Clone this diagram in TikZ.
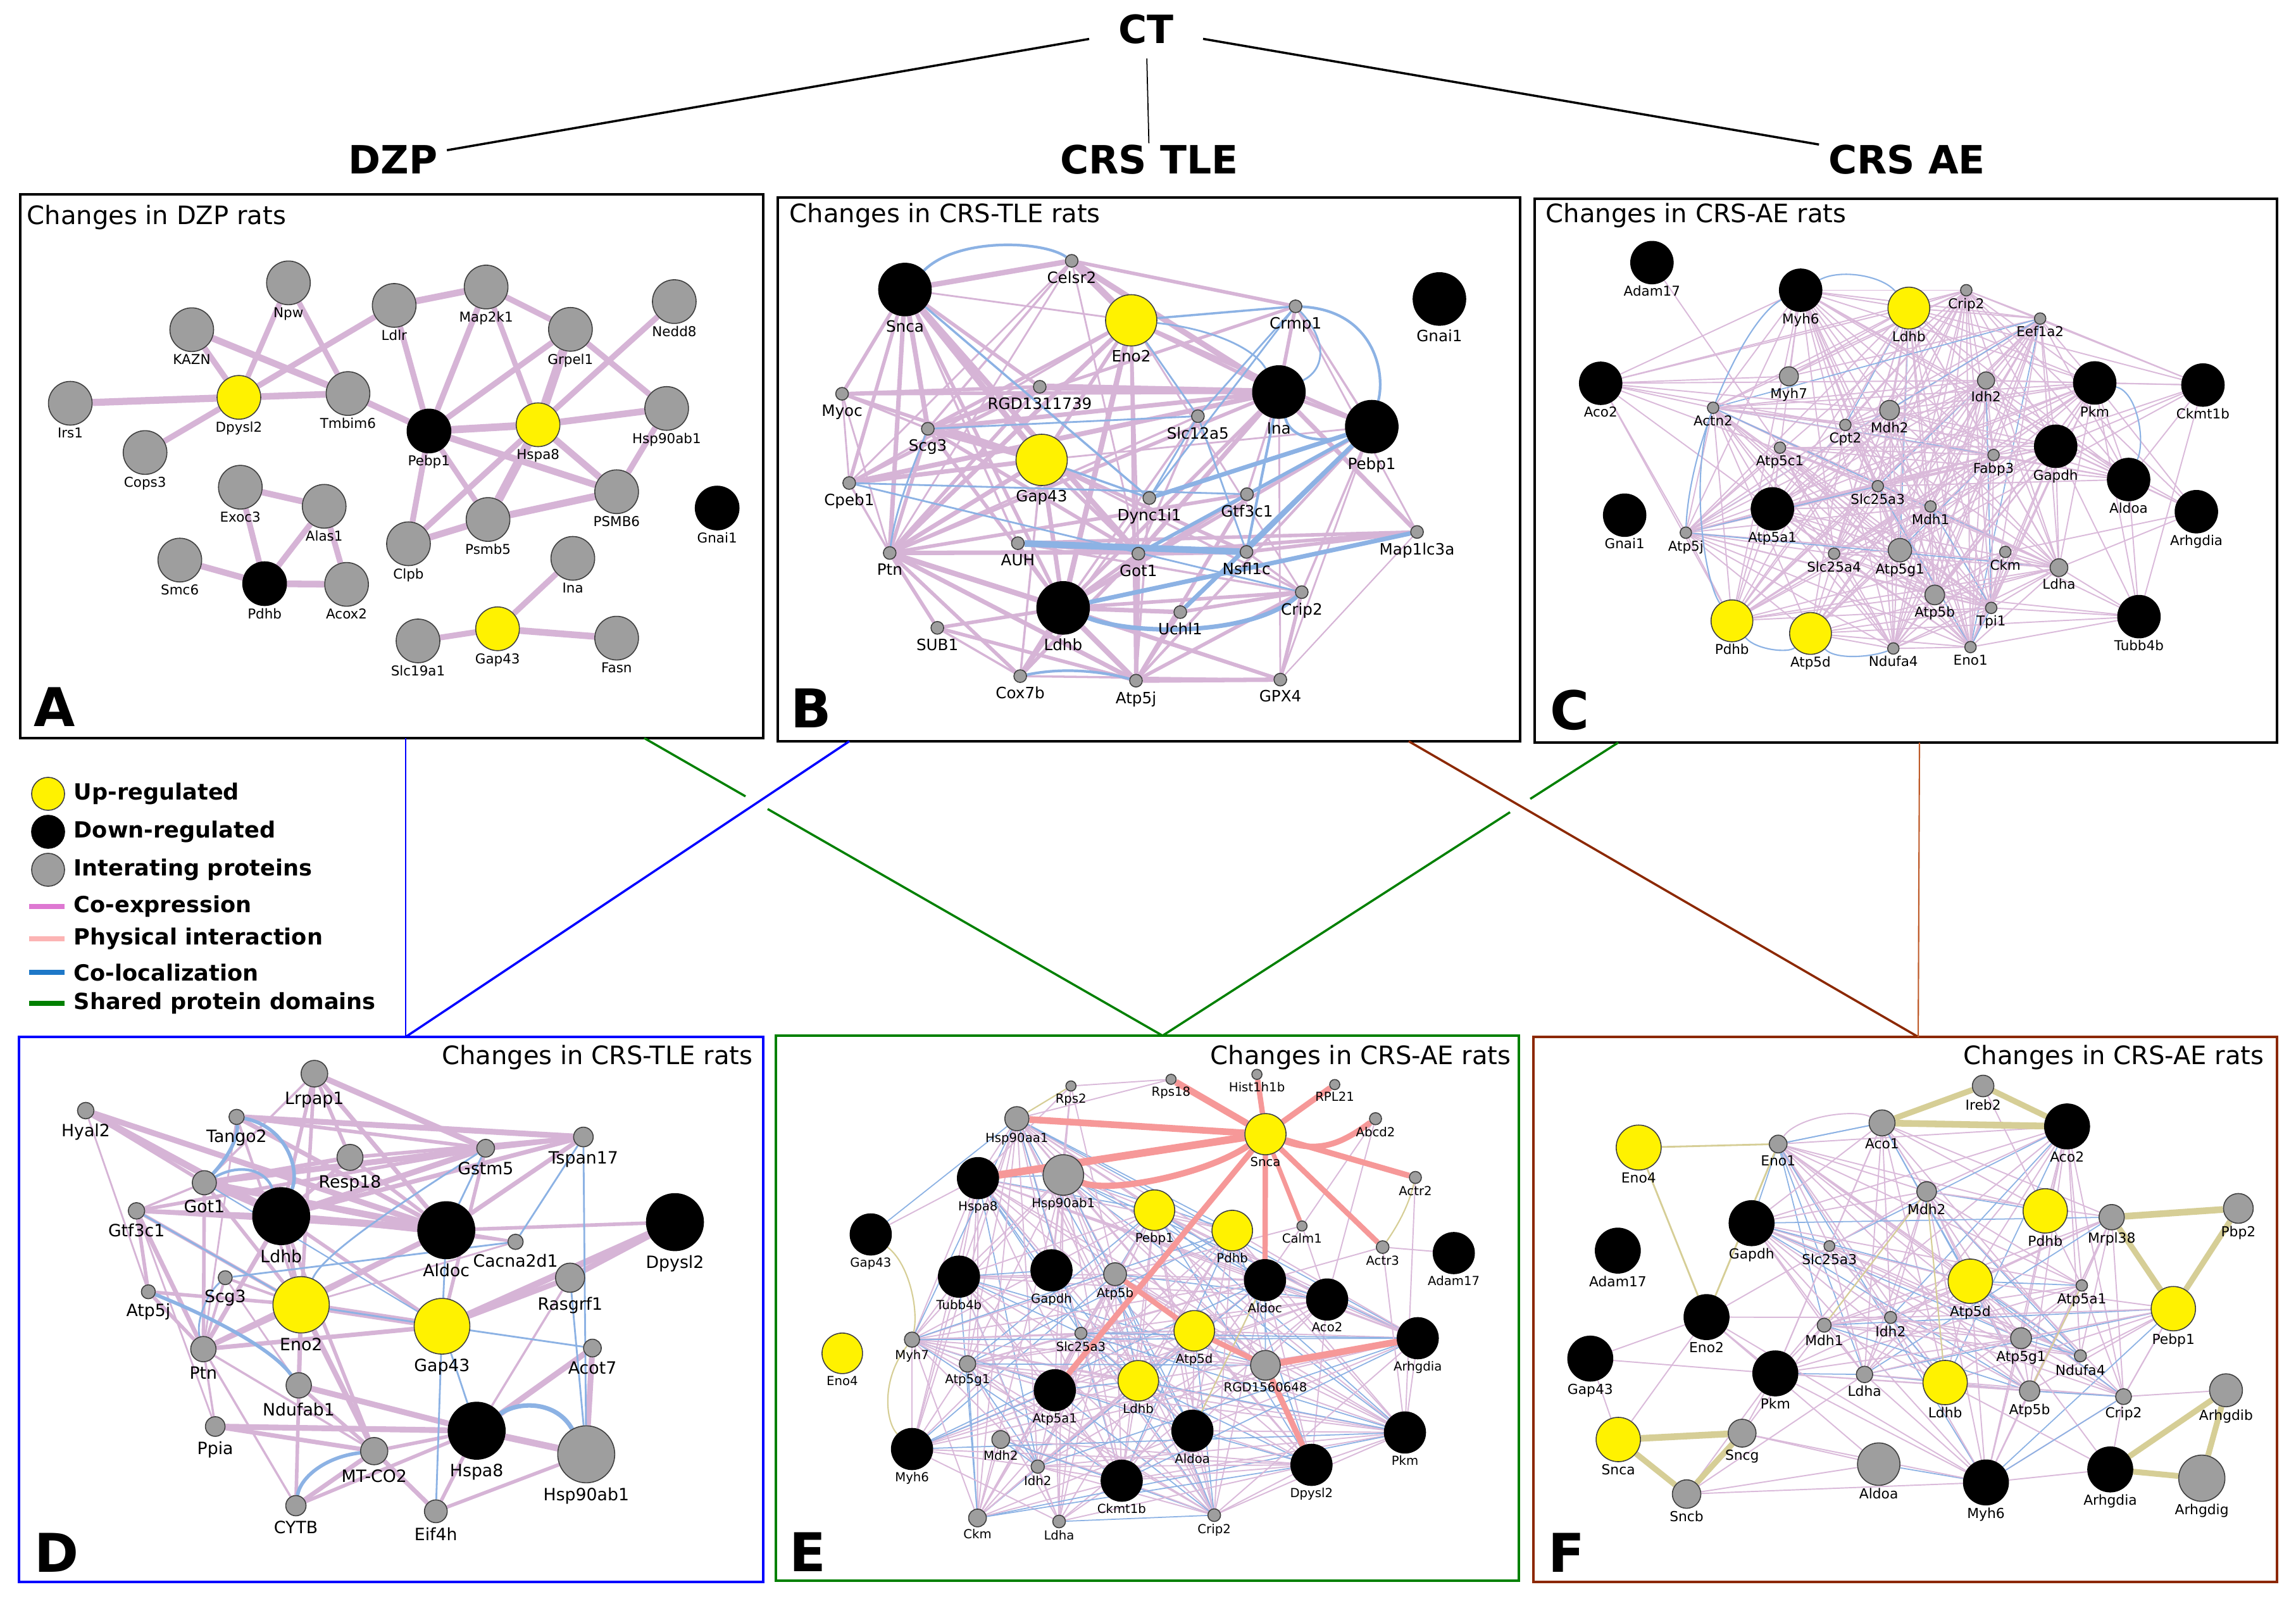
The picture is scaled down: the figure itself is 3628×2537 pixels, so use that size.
\documentclass[tikz,border=0pt]{standalone}
\usepackage{fontspec}
\setmainfont{DejaVu Sans}
\pgfdeclarelayer{back}
\pgfdeclarelayer{edges}
\pgfsetlayers{back,edges,main}
\definecolor{ngray}{RGB}{158,158,158}
\definecolor{colCE}{RGB}{214,180,214}
\definecolor{colCEt}{RGB}{218,186,218}
\definecolor{colCL}{RGB}{140,178,228}
\definecolor{colPI}{RGB}{246,152,152}
\definecolor{colSD}{RGB}{214,206,150}
\definecolor{legCE}{RGB}{222,120,210}
\definecolor{legPI}{RGB}{252,180,180}
\definecolor{legCL}{RGB}{30,120,200}
\definecolor{legSD}{RGB}{0,128,0}
\definecolor{frBlue}{RGB}{0,0,255}
\definecolor{frGreen}{RGB}{0,128,0}
\definecolor{frBrown}{RGB}{140,40,0}
\definecolor{frBrownL}{RGB}{190,90,40}
\newcommand\labfont{\fontsize{6.1}{7}\selectfont}
\newcommand\protnode[5]{\node[#1,minimum size=#2cm,label={[lab]below:#5}] (#3) at (#4) {};}
\newcommand\meshedges[5]{%
  \foreach \a [count=\i] in #2 {%
    \foreach \b [count=\j] in #2 {%
      \ifnum\i<\j
        \pgfmathtruncatemacro\rr{mod(\i*\j*7+\i*3+\j*5+#4,10)}%
        \ifnum\rr<#3 \draw[meshce] (#1\a) -- (#1\b);\fi
        \ifnum\rr>#5 \draw[meshcl] (#1\a) -- (#1\b);\fi
      \fi
    }%
  }%
}
\tikzset{
  nGr/.style={circle,draw=black!75,line width=0.45pt,fill=ngray,inner sep=0pt},
  nUp/.style={circle,draw=black!75,line width=0.45pt,fill=yellow,inner sep=0pt},
  nDn/.style={circle,draw=black,line width=0.45pt,fill=black,inner sep=0pt},
  lab/.style={inner sep=0pt,font=\labfont},
  ceE/.style={draw=colCE,line width=#1},
  clE/.style={draw=colCL,line width=#1},
  piE/.style={draw=colPI,line width=#1},
  sdE/.style={draw=colSD,line width=#1},
  meshce/.style={draw=colCEt,line width=0.55pt},
  meshcl/.style={draw=colCL,line width=0.5pt},
  ttl/.style={font=\fontsize{11.4}{13}\selectfont,inner sep=0pt},
  plet/.style={font=\fontsize{24}{28}\selectfont\bfseries,inner sep=0pt,anchor=base west},
  hdr/.style={font=\fontsize{17.5}{20}\selectfont\bfseries},
  pframe/.style={line width=1.1pt},
  leg/.style={anchor=west,inner sep=0pt,font=\fontsize{10}{12}\selectfont\bfseries},
}
\begin{document}
\begin{tikzpicture}[x=0.01cm,y=-0.01cm]
\begin{pgfonlayer}{back}
\fill[white] (0,0) rectangle (3628,2537);
\end{pgfonlayer}
\useasboundingbox (0,0) rectangle (3628,2537);

% ---------------- hierarchy ----------------
\node[hdr,inner xsep=13pt,inner ysep=6.4pt] (CT) at (1811,46) {CT};
\node[hdr,inner xsep=4pt,inner ysep=0.5pt] (DZP) at (621,252) {DZP};
\node[hdr,inner xsep=4pt,inner ysep=0.5pt] (TLE) at (1816,252) {CRS TLE};
\node[hdr,inner xsep=4pt,inner ysep=0.5pt] (AE) at (3013,252) {CRS AE};
\draw[line width=1pt] (CT) -- (DZP);
\draw[line width=1pt] (CT) -- (AE);
\draw[line width=0.5pt] (CT) -- (TLE);

% ---------------- frames ----------------
\draw[pframe] (32,307) rectangle (1206,1166);
\draw[pframe] (1229,312) rectangle (2402,1171);
\draw[pframe] (2425,314) rectangle (3598,1173);
\draw[pframe,frBlue] (30,1638) rectangle (1206,2499);
\draw[pframe,frGreen] (1226,1636) rectangle (2400,2497);
\draw[pframe,frBrown] (2423,1638) rectangle (3598,2499);

% ---------------- connectors between panels ----------------
\coordinate (Abot1) at (641,1166);
\coordinate (Abot2) at (1018,1166);
\coordinate (Bbot1) at (1342,1171);
\coordinate (Bbot2) at (2226,1171);
\coordinate (Cbot1) at (2557,1173);
\coordinate (Cbot2) at (3033,1173);
\coordinate (Dtop) at (641,1638);
\coordinate (Etop) at (1837,1636);
\coordinate (Ftop) at (3031,1638);
\coordinate (g1a) at (1178,1258);
\coordinate (g1b) at (1213,1278);
\coordinate (g2a) at (2418,1262);
\coordinate (g2b) at (2386,1283);
\draw[frBlue,line width=0.6pt] (Abot1) -- (Dtop);
\draw[frBlue,line width=1pt] (Bbot1) -- (Dtop);
\draw[frGreen,line width=1pt] (Abot2) -- (g1a);
\draw[frGreen,line width=1pt] (g1b) -- (Etop);
\draw[frGreen,line width=1pt] (Cbot1) -- (g2a);
\draw[frGreen,line width=1pt] (g2b) -- (Etop);
\draw[frBrown,line width=1pt] (Bbot2) -- (Ftop);
\draw[frBrownL,line width=0.6pt] (Cbot2) -- (Ftop);

% ---------------- titles and letters ----------------
\node[ttl,anchor=base west] (tA) at (42,355) {Changes in DZP rats};
\node[ttl,anchor=base west] (tB) at (1247,352) {Changes in CRS-TLE rats};
\node[ttl,anchor=base west] (tC) at (2442,352) {Changes in CRS-AE rats};
\node[ttl,anchor=base east] (tD) at (1190,1681) {Changes in CRS-TLE rats};
\node[ttl,anchor=base east] (tE) at (2388,1681) {Changes in CRS-AE rats};
\node[ttl,anchor=base east] (tF) at (3578,1681) {Changes in CRS-AE rats};
\node[plet] (lA) at (53,1147) {A};
\node[plet] (lB) at (1249,1149) {B};
\node[plet] (lC) at (2449,1152) {C};
\node[plet] (lD) at (54,2483) {D};
\node[plet] (lE) at (1247,2482) {E};
\node[plet] (lF) at (2446,2483) {F};

% ---------------- legend ----------------
\node[nUp,minimum size=0.52cm] (lg1) at (76,1254) {};
\node[nDn,minimum size=0.52cm] (lg2) at (76,1314) {};
\node[nGr,minimum size=0.52cm] (lg3) at (76,1374) {};
\node[leg] (lt1) at (116,1254) {Up-regulated};
\node[leg] (lt2) at (116,1314) {Down-regulated};
\node[leg] (lt3) at (116,1374) {Interating proteins};
\draw[legCE,line width=2pt] (46,1432) -- (102,1432);
\draw[legPI,line width=2pt] (46,1483) -- (102,1483);
\draw[legCL,line width=2pt] (46,1536) -- (102,1536);
\draw[legSD,line width=2pt] (46,1585) -- (102,1585);
\node[leg] (lt4) at (116,1432) {Co-expression};
\node[leg] (lt5) at (116,1483) {Physical interaction};
\node[leg] (lt6) at (116,1536) {Co-localization};
\node[leg] (lt7) at (116,1585) {Shared protein domains};

% ================= PANEL A =================
\begin{scope}[shift={(0.32cm,-3.08cm)},x=0.0075255cm,y=-0.0054847cm,label distance=0.8pt]
\def\labfont{\fontsize{6.1}{7}\selectfont}
\protnode{nGr}{0.69}{A-Npw}{563,253}{Npw}
\protnode{nGr}{0.69}{A-KAZN}{360,388}{KAZN}
\protnode{nGr}{0.69}{A-Ldlr}{785,318}{Ldlr}
\protnode{nGr}{0.69}{A-Map2k1}{978,265}{Map2k1}
\protnode{nGr}{0.69}{A-Grpel1}{1155,387}{Grpel1}
\protnode{nGr}{0.69}{A-Nedd8}{1373,307}{Nedd8}
\protnode{nGr}{0.69}{A-Irs1}{105,600}{Irs1}
\protnode{nUp}{0.69}{A-Dpysl2}{459,583}{Dpysl2}
\protnode{nGr}{0.69}{A-Tmbim6}{688,572}{Tmbim6}
\protnode{nDn}{0.69}{A-Pebp1}{858,680}{Pebp1}
\protnode{nUp}{0.69}{A-Hspa8}{1087,662}{Hspa8}
\protnode{nGr}{0.69}{A-Hsp90ab1}{1357,615}{Hsp90ab1}
\protnode{nGr}{0.69}{A-Cops3}{262,742}{Cops3}
\protnode{nGr}{0.69}{A-Exoc3}{462,842}{Exoc3}
\protnode{nGr}{0.69}{A-Alas1}{638,897}{Alas1}
\protnode{nGr}{0.69}{A-PSMB6}{1252,855}{PSMB6}
\protnode{nDn}{0.69}{A-Gnai1}{1463,902}{Gnai1}
\protnode{nGr}{0.69}{A-Psmb5}{982,935}{Psmb5}
\protnode{nGr}{0.69}{A-Clpb}{815,1005}{Clpb}
\protnode{nGr}{0.69}{A-Smc6}{335,1052}{Smc6}
\protnode{nDn}{0.69}{A-Pdhb}{513,1120}{Pdhb}
\protnode{nGr}{0.69}{A-Acox2}{685,1122}{Acox2}
\protnode{nGr}{0.69}{A-Ina}{1160,1047}{Ina}
\protnode{nUp}{0.69}{A-Gap43}{1002,1250}{Gap43}
\protnode{nGr}{0.69}{A-Slc19a1}{835,1285}{Slc19a1}
\protnode{nGr}{0.69}{A-Fasn}{1252,1277}{Fasn}
\begin{pgfonlayer}{edges}
\foreach \a/\b/\w in {Irs1/Dpysl2/3.2pt,Cops3/Dpysl2/2.6pt,KAZN/Dpysl2/2.6pt,KAZN/Tmbim6/3pt,
  Npw/Dpysl2/2.4pt,Npw/Tmbim6/2.4pt,Dpysl2/Ldlr/2.6pt,Dpysl2/Tmbim6/3pt,Tmbim6/Pebp1/2.8pt,
  Ldlr/Pebp1/2.6pt,Ldlr/Map2k1/3pt,Map2k1/Pebp1/2.6pt,Map2k1/Grpel1/2.6pt,Map2k1/Hspa8/2.4pt,
  Grpel1/Pebp1/2.6pt,Grpel1/Hspa8/4pt,Grpel1/Hsp90ab1/2.6pt,Nedd8/Hspa8/2.6pt,Pebp1/Hspa8/3.4pt,
  Pebp1/PSMB6/3pt,Pebp1/Psmb5/2.4pt,Pebp1/Clpb/2.6pt,Hspa8/Hsp90ab1/3pt,Hspa8/PSMB6/3pt,
  Hspa8/Psmb5/4pt,Hspa8/Clpb/2.6pt,Hsp90ab1/PSMB6/2.6pt,PSMB6/Psmb5/3.2pt,Psmb5/Clpb/3pt,
  Exoc3/Alas1/2.8pt,Exoc3/Pdhb/2.6pt,Alas1/Pdhb/2.6pt,Alas1/Acox2/2.6pt,Smc6/Pdhb/2.8pt,
  Pdhb/Acox2/3pt,Ina/Gap43/2.6pt,Slc19a1/Gap43/2.6pt,Gap43/Fasn/3pt}
  {\draw[ceE=\w] (A-\a) -- (A-\b);}
\end{pgfonlayer}
\end{scope}

% ================= PANEL B =================
\begin{scope}[shift={(12.26cm,-3.08cm)},x=0.0075255cm,y=-0.0055166cm,label distance=1.6pt]
\def\labfont{\fontsize{7}{8}\selectfont}
\protnode{nDn}{0.83}{B-Snca}{270,270}{Snca}
\protnode{nGr}{0.20}{B-Celsr2}{620,188}{Celsr2}
\protnode{nUp}{0.81}{B-Eno2}{745,358}{Eno2}
\protnode{nGr}{0.20}{B-Crmp1}{1090,318}{Crmp1}
\protnode{nDn}{0.83}{B-Gnai1}{1392,297}{Gnai1}
\protnode{nGr}{0.20}{B-Myoc}{138,568}{Myoc}
\protnode{nGr}{0.20}{B-RGD1311739}{553,548}{RGD1311739}
\protnode{nDn}{0.83}{B-Ina}{1055,563}{Ina}
\protnode{nGr}{0.20}{B-Slc12a5}{885,632}{Slc12a5}
\protnode{nDn}{0.83}{B-Pebp1}{1250,662}{Pebp1}
\protnode{nGr}{0.20}{B-Scg3}{318,668}{Scg3}
\protnode{nUp}{0.81}{B-Gap43}{557,757}{Gap43}
\protnode{nGr}{0.20}{B-Cpeb1}{153,823}{Cpeb1}
\protnode{nGr}{0.20}{B-Dync1i1}{783,866}{Dync1i1}
\protnode{nGr}{0.20}{B-Gtf3c1}{988,855}{Gtf3c1}
\protnode{nGr}{0.20}{B-AUH}{507,995}{AUH}
\protnode{nGr}{0.20}{B-Ptn}{238,1023}{Ptn}
\protnode{nGr}{0.20}{B-Got1}{760,1025}{Got1}
\protnode{nGr}{0.20}{B-Nsfl1c}{987,1020}{Nsfl1c}
\protnode{nGr}{0.20}{B-Map1lc3a}{1345,963}{Map1lc3a}
\protnode{nDn}{0.83}{B-Ldhb}{602,1180}{Ldhb}
\protnode{nGr}{0.20}{B-Uchl1}{848,1192}{Uchl1}
\protnode{nGr}{0.20}{B-Crip2}{1103,1135}{Crip2}
\protnode{nGr}{0.20}{B-SUB1}{338,1237}{SUB1}
\protnode{nGr}{0.20}{B-Cox7b}{512,1375}{Cox7b}
\protnode{nGr}{0.20}{B-Atp5j}{755,1388}{Atp5j}
\protnode{nGr}{0.20}{B-GPX4}{1058,1385}{GPX4}
\begin{pgfonlayer}{edges}
\foreach \a/\b/\w in {Snca/Celsr2/2.4pt,Snca/Myoc/1.6pt,Snca/Scg3/2.2pt,Snca/Cpeb1/1.6pt,Snca/Ptn/2pt,
  Snca/Gap43/2.6pt,Snca/RGD1311739/1.6pt,Snca/Got1/2.4pt,Snca/Ldhb/1.6pt,Snca/Eno2/0.8pt,Snca/AUH/1pt,
  Celsr2/Eno2/3pt,Celsr2/Crmp1/1.6pt,Celsr2/Ina/2.6pt,Celsr2/Cpeb1/0.8pt,Celsr2/Scg3/1pt,Celsr2/Ptn/0.8pt,
  Celsr2/Got1/0.8pt,Eno2/Ina/1.6pt,Eno2/Pebp1/1.6pt,Eno2/Scg3/1.6pt,Eno2/Ptn/2pt,Eno2/Ldhb/2.4pt,
  Eno2/Gap43/1.6pt,Eno2/Atp5j/1.6pt,Eno2/Crip2/0.8pt,Eno2/Got1/1pt,Eno2/Cpeb1/1pt,Crmp1/Ina/1.6pt,
  Crmp1/Map1lc3a/0.8pt,Crmp1/Pebp1/1pt,Crmp1/Scg3/1.4pt,RGD1311739/Ina/3pt,RGD1311739/Myoc/1.6pt,
  RGD1311739/Scg3/1.6pt,RGD1311739/Ptn/1.6pt,RGD1311739/Cpeb1/1.6pt,Myoc/Ina/1.6pt,Myoc/Cpeb1/0.8pt,
  Myoc/Scg3/1pt,Myoc/Gap43/1.6pt,Myoc/Ptn/0.8pt,Scg3/Ina/2pt,Scg3/Gap43/3pt,Scg3/Ptn/1.6pt,Scg3/Got1/1.6pt,
  Scg3/Ldhb/1.6pt,Cpeb1/Ina/2.2pt,Cpeb1/Gap43/2pt,Cpeb1/Ptn/1pt,Ina/Pebp1/1.6pt,Ina/Map1lc3a/2pt,
  Ina/Ldhb/1.6pt,Ina/Got1/2pt,Ina/Ptn/1.6pt,Ina/Gtf3c1/1pt,Ina/GPX4/0.8pt,Pebp1/Ldhb/1.6pt,
  Pebp1/Atp5j/1.2pt,Pebp1/Crip2/1pt,Pebp1/Gap43/0.8pt,Pebp1/GPX4/0.8pt,Gap43/Ldhb/2pt,Gap43/Got1/1.6pt,
  Gap43/Nsfl1c/1.6pt,Gap43/Ptn/2pt,Gap43/Crip2/1pt,Gap43/Cox7b/1pt,Ptn/Ldhb/2.4pt,Ptn/Atp5j/2pt,
  Ptn/Cox7b/1.6pt,Ptn/SUB1/1.6pt,Ptn/GPX4/1.6pt,Ptn/Nsfl1c/2pt,Ptn/Gtf3c1/1.6pt,Ptn/Slc12a5/1pt,
  AUH/Got1/1.6pt,AUH/Ldhb/1pt,AUH/Map1lc3a/1.6pt,AUH/Crip2/1pt,Got1/Nsfl1c/2pt,Got1/Map1lc3a/1.6pt,
  Got1/Ldhb/1.6pt,Got1/Atp5j/2pt,Got1/Cox7b/1.6pt,Gtf3c1/Atp5j/1.6pt,Gtf3c1/Ldhb/1.6pt,Gtf3c1/Got1/1pt,
  Dync1i1/Atp5j/1pt,Dync1i1/Cox7b/1pt,Ldhb/Cox7b/2.4pt,Ldhb/Atp5j/2.4pt,Ldhb/Uchl1/2pt,Ldhb/GPX4/1.6pt,
  Ldhb/SUB1/1.6pt,Ldhb/Crip2/1.6pt,Uchl1/Crip2/1.6pt,Uchl1/Atp5j/1.6pt,Cox7b/GPX4/1pt,Atp5j/GPX4/2pt,
  Atp5j/Crip2/1.6pt,GPX4/Map1lc3a/0.6pt,GPX4/Crip2/1.6pt,SUB1/Cox7b/1pt,SUB1/Atp5j/1.6pt,
  Nsfl1c/Map1lc3a/1.6pt,Nsfl1c/Crip2/1pt,Slc12a5/Got1/1pt,Slc12a5/Ldhb/1pt}
  {\draw[ceE=\w] (B-\a) -- (B-\b);}
\foreach \a/\b/\w in {Eno2/Crmp1/1pt,Crmp1/Dync1i1/0.8pt,Crmp1/Slc12a5/0.8pt,Slc12a5/Dync1i1/0.8pt,
  Slc12a5/Nsfl1c/0.8pt,Scg3/Slc12a5/0.8pt,Cpeb1/Gtf3c1/0.8pt,Cpeb1/Crip2/0.8pt,Snca/Dync1i1/1pt,
  Pebp1/Dync1i1/2pt,Pebp1/Got1/1.6pt,Pebp1/Uchl1/2pt,Pebp1/Nsfl1c/1.2pt,Ldhb/Map1lc3a/2pt,
  AUH/Nsfl1c/3pt,Gap43/Dync1i1/1pt,Ina/Nsfl1c/1.2pt,Eno2/Slc12a5/0.8pt}
  {\draw[clE=\w] (B-\a) -- (B-\b);}
\draw[clE=1.2pt] (B-Snca) .. controls (380,120) and (560,130) .. (B-Celsr2);
\draw[clE=1.2pt] (B-Crmp1) .. controls (1250,330) and (1280,500) .. (B-Pebp1);
\draw[clE=0.8pt] (B-Crmp1) .. controls (1160,420) and (1150,500) .. (B-Ina);
\draw[clE=0.8pt] (B-Eno2) .. controls (900,380) and (1000,430) .. (B-Ina);
\draw[clE=2pt] (B-Ldhb) .. controls (750,1260) and (1000,1260) .. (B-Crip2);
\draw[clE=1.2pt] (B-Cox7b) .. controls (600,1350) and (680,1360) .. (B-Atp5j);
\draw[clE=0.8pt] (B-Scg3) .. controls (280,800) and (250,900) .. (B-Ptn);
\draw[clE=1.2pt] (B-Ina) .. controls (1080,700) and (1150,710) .. (B-Pebp1);
\end{pgfonlayer}
\end{scope}

% ================= PANEL C =================
\begin{scope}[shift={(24.23cm,-3.08cm)},x=0.0074298cm,y=-0.0055166cm,label distance=0.5pt]
\def\labfont{\fontsize{6.1}{7}\selectfont}
\protnode{nDn}{0.67}{C-Adam17}{250,193}{Adam17}
\protnode{nDn}{0.67}{C-Myh6}{566,272}{Myh6}
\protnode{nUp}{0.66}{C-Ldhb}{796,323}{Ldhb}
\protnode{nGr}{0.18}{C-Crip2}{918,272}{Crip2}
\protnode{nGr}{0.18}{C-Eef1a2}{1075,353}{Eef1a2}
\protnode{nDn}{0.67}{C-Aco2}{141,538}{Aco2}
\protnode{nGr}{0.30}{C-Myh7}{541,518}{Myh7}
\protnode{nGr}{0.27}{C-Idh2}{960,530}{Idh2}
\protnode{nDn}{0.67}{C-Pkm}{1191,537}{Pkm}
\protnode{nDn}{0.67}{C-Ckmt1b}{1421,543}{Ckmt1b}
\protnode{nGr}{0.18}{C-Actn2}{380,608}{Actn2}
\protnode{nGr}{0.31}{C-Mdh2}{755,615}{Mdh2}
\protnode{nGr}{0.18}{C-Cpt2}{661,657}{Cpt2}
\protnode{nGr}{0.18}{C-Atp5c1}{522,722}{Atp5c1}
\protnode{nGr}{0.18}{C-Fabp3}{976,743}{Fabp3}
\protnode{nDn}{0.67}{C-Gapdh}{1108,718}{Gapdh}
\protnode{nGr}{0.18}{C-Slc25a3}{730,832}{Slc25a3}
\protnode{nDn}{0.67}{C-Aldoa}{1263,813}{Aldoa}
\protnode{nGr}{0.18}{C-Mdh1}{842,890}{Mdh1}
\protnode{nDn}{0.67}{C-Gnai1}{192,915}{Gnai1}
\protnode{nDn}{0.67}{C-Atp5a1}{506,897}{Atp5a1}
\protnode{nDn}{0.67}{C-Arhgdia}{1407,905}{Arhgdia}
\protnode{nGr}{0.18}{C-Atp5j}{322,965}{Atp5j}
\protnode{nGr}{0.18}{C-Slc25a4}{637,1025}{Slc25a4}
\protnode{nGr}{0.37}{C-Atp5g1}{777,1015}{Atp5g1}
\protnode{nGr}{0.18}{C-Ckm}{1001,1020}{Ckm}
\protnode{nGr}{0.28}{C-Ldha}{1115,1065}{Ldha}
\protnode{nGr}{0.31}{C-Atp5b}{851,1143}{Atp5b}
\protnode{nGr}{0.18}{C-Tpi1}{971,1180}{Tpi1}
\protnode{nDn}{0.67}{C-Tubb4b}{1285,1205}{Tubb4b}
\protnode{nUp}{0.66}{C-Pdhb}{420,1217}{Pdhb}
\protnode{nUp}{0.66}{C-Atp5d}{587,1253}{Atp5d}
\protnode{nGr}{0.18}{C-Ndufa4}{763,1296}{Ndufa4}
\protnode{nGr}{0.18}{C-Eno1}{927,1292}{Eno1}
\begin{pgfonlayer}{edges}
\def\Clist{Myh6,Ldhb,Crip2,Eef1a2,Myh7,Idh2,Pkm,Actn2,Mdh2,Cpt2,Atp5c1,Fabp3,Gapdh,Slc25a3,Aldoa,Mdh1,Atp5a1,Atp5j,Slc25a4,Atp5g1,Ckm,Ldha,Atp5b,Tpi1,Pdhb,Atp5d,Ndufa4,Eno1}
\meshedges{C-}{\Clist}{8}{3}{8}
\foreach \s/\ts in {Adam17/{Atp5c1},Aco2/{Myh6,Ldhb,Crip2,Myh7,Actn2,Idh2,Mdh2,Atp5a1,Atp5j,Pdhb,Slc25a3,Cpt2},
  Ckmt1b/{Crip2,Eef1a2,Pkm,Gapdh,Aldoa,Tubb4b,Idh2,Fabp3,Ldhb,Atp5g1},
  Arhgdia/{Aldoa,Pkm,Gapdh,Ldha,Ckm,Myh6,Crip2},
  Tubb4b/{Aldoa,Pkm,Tpi1,Eno1,Atp5b,Gapdh,Ckm,Ldha,Atp5d}}
  {\foreach \t in \ts {\draw[meshce] (C-\s) -- (C-\t);}}
\draw[clE=0.6pt] (C-Myh6) .. controls (650,210) and (740,230) .. (C-Ldhb);
\draw[clE=0.6pt] (C-Pdhb) .. controls (470,1300) and (540,1310) .. (C-Atp5d);
\draw[clE=0.6pt] (C-Atp5d) .. controls (640,1330) and (720,1320) .. (C-Ndufa4);
\draw[clE=0.6pt] (C-Pkm) .. controls (1280,560) and (1300,700) .. (C-Aldoa);
\draw[clE=0.6pt] (C-Actn2) .. controls (330,800) and (360,1100) .. (C-Pdhb);
\draw[clE=0.6pt] (C-Myh6) .. controls (450,350) and (330,700) .. (C-Atp5j);
\end{pgfonlayer}
\end{scope}

% ================= PANEL D =================
\begin{scope}[shift={(0.32cm,-16.34cm)},x=0.0074936cm,y=-0.0055485cm,label distance=1.8pt]
\def\labfont{\fontsize{7.6}{9}\selectfont}
\protnode{nGr}{0.42}{D-Lrpap1}{620,110}{Lrpap1}
\protnode{nGr}{0.26}{D-Hyal2}{138,215}{Hyal2}
\protnode{nGr}{0.24}{D-Tango2}{456,233}{Tango2}
\protnode{nGr}{0.41}{D-Resp18}{695,348}{Resp18}
\protnode{nGr}{0.28}{D-Gstm5}{981,322}{Gstm5}
\protnode{nGr}{0.31}{D-Tspan17}{1187,290}{Tspan17}
\protnode{nGr}{0.38}{D-Got1}{388,420}{Got1}
\protnode{nGr}{0.26}{D-Gtf3c1}{245,500}{Gtf3c1}
\protnode{nDn}{0.90}{D-Ldhb}{550,515}{Ldhb}
\protnode{nDn}{0.90}{D-Aldoc}{898,555}{Aldoc}
\protnode{nDn}{0.90}{D-Dpysl2}{1380,532}{Dpysl2}
\protnode{nGr}{0.24}{D-Cacna2d1}{1044,588}{Cacna2d1}
\protnode{nGr}{0.22}{D-Scg3}{432,690}{Scg3}
\protnode{nGr}{0.22}{D-Atp5j}{270,730}{Atp5j}
\protnode{nUp}{0.89}{D-Eno2}{592,767}{Eno2}
\protnode{nUp}{0.88}{D-Gap43}{889,828}{Gap43}
\protnode{nGr}{0.46}{D-Rasgrf1}{1159,690}{Rasgrf1}
\protnode{nGr}{0.40}{D-Ptn}{386,893}{Ptn}
\protnode{nGr}{0.28}{D-Acot7}{1206,890}{Acot7}
\protnode{nGr}{0.40}{D-Ndufab1}{587,996}{Ndufab1}
\protnode{nGr}{0.31}{D-Ppia}{411,1113}{Ppia}
\protnode{nGr}{0.43}{D-MT-CO2}{746,1183}{MT-CO2}
\protnode{nDn}{0.90}{D-Hspa8}{962,1125}{Hspa8}
\protnode{nGr}{0.90}{D-Hsp90ab1}{1193,1192}{Hsp90ab1}
\protnode{nGr}{0.32}{D-CYTB}{581,1338}{CYTB}
\protnode{nGr}{0.36}{D-Eif4h}{876,1354}{Eif4h}
\begin{pgfonlayer}{edges}
\foreach \a/\b/\w in {Hyal2/Ldhb/3pt,Hyal2/Aldoc/2.6pt,Hyal2/Got1/1.6pt,Hyal2/Atp5j/0.8pt,
  Lrpap1/Gstm5/2.6pt,Lrpap1/Aldoc/2pt,Lrpap1/Got1/1pt,Lrpap1/Eno2/1.6pt,Lrpap1/Resp18/1.6pt,Lrpap1/Ldhb/1.6pt,
  Tango2/Tspan17/2.6pt,Tango2/Gstm5/1.6pt,Tango2/Aldoc/2pt,Tango2/Ptn/0.8pt,Tango2/Eno2/1.2pt,
  Resp18/Got1/2pt,Resp18/Tspan17/1.6pt,Resp18/Aldoc/1.6pt,Resp18/Ldhb/1.6pt,
  Gstm5/Got1/2.6pt,Gstm5/Ldhb/2.6pt,Gstm5/Tspan17/1.6pt,Gstm5/Gtf3c1/1.6pt,Gstm5/Gap43/1.6pt,
  Tspan17/Got1/2pt,Tspan17/Ldhb/2pt,Tspan17/Aldoc/2pt,Got1/Ldhb/2pt,Got1/Aldoc/3pt,Got1/Gtf3c1/1pt,
  Got1/Ptn/1.6pt,Got1/Eno2/1.6pt,Gtf3c1/Ldhb/2pt,Gtf3c1/Aldoc/1.6pt,Gtf3c1/Atp5j/1.6pt,Gtf3c1/Ptn/2pt,
  Gtf3c1/Eno2/1.6pt,Gtf3c1/Ppia/0.8pt,Ldhb/Aldoc/3.2pt,Ldhb/Eno2/2pt,Ldhb/Gap43/1.6pt,Ldhb/Ptn/2pt,
  Ldhb/MT-CO2/1.6pt,Ldhb/Cacna2d1/1pt,Aldoc/Dpysl2/1.6pt,Aldoc/Cacna2d1/1.2pt,Aldoc/Eno2/1.2pt,
  Aldoc/Ptn/2.4pt,Dpysl2/Gap43/3pt,Dpysl2/Rasgrf1/2.6pt,Cacna2d1/Eno2/0.8pt,Scg3/Ptn/1.2pt,
  Scg3/Eno2/1.2pt,Scg3/Ndufab1/0.8pt,Atp5j/Eno2/1.6pt,Atp5j/Ptn/1.6pt,Eno2/Gap43/3pt,Eno2/Ptn/2pt,
  Eno2/MT-CO2/2.4pt,Eno2/Ndufab1/2pt,Eno2/CYTB/1.6pt,Gap43/Ptn/2pt,Gap43/Rasgrf1/2.4pt,Ptn/Ppia/1pt,
  Ptn/CYTB/1pt,Ptn/MT-CO2/1pt,Ndufab1/Hspa8/2.6pt,Ndufab1/MT-CO2/1.6pt,Ppia/Hspa8/2.6pt,
  Ppia/MT-CO2/2pt,MT-CO2/Hspa8/1.6pt,MT-CO2/Eif4h/2pt,MT-CO2/CYTB/2pt,Hspa8/Hsp90ab1/3pt,
  Hspa8/Eif4h/1.6pt,Hspa8/CYTB/1.6pt,Hsp90ab1/Eif4h/1.6pt,Acot7/Hspa8/2.6pt,Acot7/Hsp90ab1/2.6pt,
  Rasgrf1/Hspa8/1pt}
  {\draw[ceE=\w] (D-\a) -- (D-\b);}
\foreach \a/\b/\w in {Gstm5/Aldoc/0.8pt,Tspan17/Cacna2d1/0.8pt,Tspan17/Hsp90ab1/0.8pt,Cacna2d1/Scg3/0.8pt,
  Gtf3c1/Eno2/0.8pt,Aldoc/Gap43/0.8pt,Gap43/Hspa8/0.8pt,Gap43/Eif4h/0.8pt,Gap43/Acot7/0.8pt,
  Rasgrf1/Hsp90ab1/0.8pt,Eno2/Gap43/0.8pt,Got1/Gap43/0.6pt}
  {\draw[clE=\w] (D-\a) -- (D-\b);}
\draw[clE=1.6pt] (D-Tango2) .. controls (460,300) and (430,360) .. (D-Got1);
\draw[clE=1.6pt] (D-Tango2) .. controls (560,260) and (590,380) .. (D-Ldhb);
\draw[clE=1.2pt] (D-Got1) .. controls (470,360) and (520,390) .. (D-Ldhb);
\draw[clE=2pt] (D-Hspa8) .. controls (1050,1040) and (1130,1040) .. (D-Hsp90ab1);
\draw[clE=1.6pt] (D-MT-CO2) .. controls (640,1200) and (590,1260) .. (D-CYTB);
\draw[clE=0.8pt] (D-Gstm5) .. controls (800,480) and (640,620) .. (D-Eno2);
\draw[clE=1.6pt] (D-Atp5j) .. controls (400,800) and (530,890) .. (D-Ndufab1);
\draw[clE=0.8pt] (D-Scg3) .. controls (390,740) and (370,820) .. (D-Ptn);
\end{pgfonlayer}
\end{scope}

% ================= PANEL E =================
\begin{scope}[shift={(12.26cm,-16.34cm)},x=0.0074936cm,y=-0.0055485cm,label distance=0.7pt]
\def\labfont{\fontsize{5.6}{6.5}\selectfont}
\protnode{nGr}{0.16}{E-Rps2}{621,145}{Rps2}
\protnode{nGr}{0.16}{E-Rps18}{832,126}{Rps18}
\protnode{nGr}{0.16}{E-Hist1h1b}{1013,112}{Hist1h1b}
\protnode{nGr}{0.16}{E-RPL21}{1177,141}{RPL21}
\protnode{nGr}{0.38}{E-Hsp90aa1}{507,238}{Hsp90aa1}
\protnode{nGr}{0.19}{E-Abcd2}{1263,238}{Abcd2}
\protnode{nUp}{0.65}{E-Snca}{1031,282}{Snca}
\protnode{nDn}{0.65}{E-Hspa8}{425,407}{Hspa8}
\protnode{nGr}{0.64}{E-Hsp90ab1}{605,398}{Hsp90ab1}
\protnode{nGr}{0.19}{E-Actr2}{1347,405}{Actr2}
\protnode{nUp}{0.64}{E-Pebp1}{797,498}{Pebp1}
\protnode{nUp}{0.64}{E-Pdhb}{961,556}{Pdhb}
\protnode{nGr}{0.16}{E-Calm1}{1108,543}{Calm1}
\protnode{nDn}{0.65}{E-Gap43}{199,567}{Gap43}
\protnode{nGr}{0.20}{E-Actr3}{1278,603}{Actr3}
\protnode{nDn}{0.65}{E-Adam17}{1428,620}{Adam17}
\protnode{nDn}{0.65}{E-Tubb4b}{385,687}{Tubb4b}
\protnode{nDn}{0.65}{E-Gapdh}{580,669}{Gapdh}
\protnode{nGr}{0.36}{E-Atp5b}{714,680}{Atp5b}
\protnode{nDn}{0.65}{E-Aldoc}{1030,697}{Aldoc}
\protnode{nDn}{0.65}{E-Aco2}{1161,752}{Aco2}
\protnode{nUp}{0.64}{E-Atp5d}{881,841}{Atp5d}
\protnode{nGr}{0.19}{E-Slc25a3}{642,848}{Slc25a3}
\protnode{nGr}{0.24}{E-Myh7}{286,866}{Myh7}
\protnode{nDn}{0.65}{E-Arhgdia}{1352,862}{Arhgdia}
\protnode{nUp}{0.64}{E-Eno4}{139,905}{Eno4}
\protnode{nGr}{0.26}{E-Atp5g1}{403,935}{Atp5g1}
\protnode{nGr}{0.47}{E-RGD1560648}{1031,939}{RGD1560648}
\protnode{nDn}{0.65}{E-Atp5a1}{587,1010}{Atp5a1}
\protnode{nUp}{0.64}{E-Ldhb}{763,983}{Ldhb}
\protnode{nDn}{0.65}{E-Aldoa}{877,1125}{Aldoa}
\protnode{nDn}{0.65}{E-Pkm}{1325,1130}{Pkm}
\protnode{nDn}{0.65}{E-Myh6}{286,1177}{Myh6}
\protnode{nGr}{0.28}{E-Mdh2}{473,1150}{Mdh2}
\protnode{nGr}{0.21}{E-Idh2}{551,1227}{Idh2}
\protnode{nDn}{0.65}{E-Ckmt1b}{728,1267}{Ckmt1b}
\protnode{nDn}{0.65}{E-Dpysl2}{1128,1222}{Dpysl2}
\protnode{nGr}{0.28}{E-Ckm}{424,1373}{Ckm}
\protnode{nGr}{0.20}{E-Ldha}{596,1383}{Ldha}
\protnode{nGr}{0.20}{E-Crip2}{923,1365}{Crip2}
\begin{pgfonlayer}{edges}
\def\Elist{Hspa8,Hsp90ab1,Hsp90aa1,Tubb4b,Gapdh,Atp5b,Pebp1,Pdhb,Aldoc,Aco2,Atp5d,Slc25a3,Myh7,Atp5g1,RGD1560648,Atp5a1,Ldhb,Aldoa,Pkm,Myh6,Mdh2,Idh2,Ckmt1b,Dpysl2,Ckm,Ldha,Crip2,Arhgdia}
\meshedges{E-}{\Elist}{5}{1}{7}
\foreach \a/\b in {Gap43/Hspa8,Adam17/Actr3,Actr2/Pkm,Actr3/Pkm,Abcd2/Aco2,Rps2/Rps18,Rps2/Hspa8,
  Rps2/Hsp90ab1,Rps2/Gapdh,Rps2/Atp5b,Rps18/Hsp90aa1,Calm1/Atp5b,Calm1/Aco2,Actr3/Aldoc,Abcd2/Aldoc}
  {\draw[meshce] (E-\a) -- (E-\b);}
\draw[meshcl] (E-Gap43) -- (E-Hsp90aa1);
\draw[sdE=0.6pt] (E-Rps2) -- (E-Hsp90aa1);
\draw[sdE=0.6pt] (E-Gap43) .. controls (280,650) and (300,780) .. (E-Myh7);
\draw[sdE=0.6pt] (E-Myh7) .. controls (220,980) and (230,1100) .. (E-Myh6);
\draw[sdE=0.6pt] (E-Actr2) .. controls (1330,500) and (1300,560) .. (E-Actr3);
\draw[sdE=0.6pt] (E-Aldoc) -- (E-Aldoa);
\foreach \a/\b/\w in {Snca/Rps18/3pt,Snca/Hist1h1b/2.4pt,Snca/RPL21/2.6pt,Snca/Hsp90aa1/3pt,Snca/Hspa8/3.4pt,
  Snca/Actr2/2.6pt,Snca/Actr3/2.4pt,Snca/Calm1/2pt,Snca/Aldoc/2.4pt,Snca/Atp5a1/2.6pt,Atp5b/Atp5d/2.4pt,
  Atp5d/RGD1560648/2.4pt,RGD1560648/Arhgdia/3pt,RGD1560648/Dpysl2/2.6pt}
  {\draw[piE=\w] (E-\a) -- (E-\b);}
\draw[piE=2.8pt] (E-Hsp90ab1) .. controls (700,450) and (900,400) .. (E-Snca);
\draw[piE=2.6pt] (E-Snca) .. controls (1150,340) and (1200,300) .. (E-Abcd2);
\end{pgfonlayer}
\end{scope}

% ================= PANEL F =================
\begin{scope}[shift={(24.20cm,-16.34cm)},x=0.0074936cm,y=-0.0055485cm,label distance=0.8pt]
\def\labfont{\fontsize{6.2}{7}\selectfont}
\protnode{nGr}{0.34}{F-Ireb2}{950,145}{Ireb2}
\protnode{nGr}{0.41}{F-Aco1}{737,250}{Aco1}
\protnode{nDn}{0.71}{F-Aco2}{1127,260}{Aco2}
\protnode{nUp}{0.71}{F-Eno4}{224,320}{Eno4}
\protnode{nGr}{0.28}{F-Eno1}{518,310}{Eno1}
\protnode{nGr}{0.31}{F-Mdh2}{831,445}{Mdh2}
\protnode{nUp}{0.70}{F-Pdhb}{1081,500}{Pdhb}
\protnode{nGr}{0.40}{F-Mrpl38}{1221,518}{Mrpl38}
\protnode{nGr}{0.47}{F-Pbp2}{1488,493}{Pbp2}
\protnode{nDn}{0.71}{F-Gapdh}{462,535}{Gapdh}
\protnode{nDn}{0.71}{F-Adam17}{180,613}{Adam17}
\protnode{nGr}{0.17}{F-Slc25a3}{626,600}{Slc25a3}
\protnode{nUp}{0.70}{F-Atp5d}{923,700}{Atp5d}
\protnode{nGr}{0.18}{F-Atp5a1}{1158,712}{Atp5a1}
\protnode{nUp}{0.70}{F-Pebp1}{1351,778}{Pebp1}
\protnode{nDn}{0.71}{F-Eno2}{367,802}{Eno2}
\protnode{nGr}{0.22}{F-Mdh1}{615,825}{Mdh1}
\protnode{nGr}{0.19}{F-Idh2}{755,803}{Idh2}
\protnode{nGr}{0.33}{F-Atp5g1}{1030,862}{Atp5g1}
\protnode{nGr}{0.19}{F-Ndufa4}{1155,912}{Ndufa4}
\protnode{nDn}{0.71}{F-Gap43}{122,920}{Gap43}
\protnode{nDn}{0.71}{F-Pkm}{512,962}{Pkm}
\protnode{nGr}{0.26}{F-Ldha}{700,965}{Ldha}
\protnode{nUp}{0.70}{F-Ldhb}{870,988}{Ldhb}
\protnode{nGr}{0.32}{F-Atp5b}{1048,1012}{Atp5b}
\protnode{nGr}{0.25}{F-Crip2}{1246,1028}{Crip2}
\protnode{nGr}{0.52}{F-Arhgdib}{1462,1010}{Arhgdib}
\protnode{nUp}{0.70}{F-Snca}{181,1150}{Snca}
\protnode{nGr}{0.44}{F-Sncg}{442,1132}{Sncg}
\protnode{nGr}{0.67}{F-Aldoa}{730,1220}{Aldoa}
\protnode{nDn}{0.71}{F-Myh6}{956,1272}{Myh6}
\protnode{nDn}{0.71}{F-Arhgdia}{1218,1235}{Arhgdia}
\protnode{nGr}{0.73}{F-Arhgdig}{1411,1260}{Arhgdig}
\protnode{nGr}{0.45}{F-Sncb}{325,1305}{Sncb}
\begin{pgfonlayer}{edges}
\def\Flist{Eno1,Aco1,Aco2,Mdh2,Pdhb,Mrpl38,Gapdh,Slc25a3,Atp5d,Atp5a1,Pebp1,Mdh1,Idh2,Atp5g1,Ndufa4,Pkm,Ldha,Ldhb,Atp5b,Crip2,Aldoa,Myh6}
\meshedges{F-}{\Flist}{6}{2}{8}
\foreach \a/\b in {Gap43/Eno2,Gap43/Snca,Gap43/Pkm,Snca/Eno2,Eno2/Mdh2,Eno2/Pkm,Eno2/Aldoa,Eno2/Myh6,
  Sncg/Aldoa,Sncg/Myh6,Sncg/Pkm,Sncg/Mdh1,Sncb/Aldoa,Sncb/Myh6,Sncb/Pkm,Sncb/Ldha,Arhgdia/Myh6,Arhgdia/Atp5d,
  Arhgdia/Crip2,Arhgdia/Ldhb,Crip2/Arhgdib,Pebp1/Crip2,Pebp1/Atp5d,Pebp1/Atp5g1,Ireb2/Atp5a1,Eno2/Idh2}
  {\draw[meshce] (F-\a) -- (F-\b);}
\draw[meshce] (F-Eno1) .. controls (560,230) and (680,210) .. (F-Aco1);
\draw[meshcl] (F-Eno1) -- (F-Aco1);
\draw[meshcl] (F-Myh6) -- (F-Crip2);
\foreach \a/\b/\w in {Aco1/Ireb2/2.6pt,Ireb2/Aco2/2.6pt,Aco1/Aco2/3pt,Mrpl38/Pbp2/3pt,Mrpl38/Pebp1/2.6pt,
  Pbp2/Pebp1/2.6pt,Arhgdib/Arhgdia/2.6pt,Arhgdib/Arhgdig/2.6pt,Arhgdia/Arhgdig/2.6pt,Snca/Sncg/3pt,
  Snca/Sncb/2.6pt,Sncg/Sncb/2.6pt,Eno4/Eno1/0.8pt,Eno4/Eno2/0.8pt,Eno1/Eno2/0.8pt,Mdh2/Mdh1/0.6pt,
  Atp5a1/Atp5b/0.6pt,Mdh2/Ldhb/0.6pt}
  {\draw[sdE=\w] (F-\a) -- (F-\b);}
\end{pgfonlayer}
\end{scope}
\end{tikzpicture}
\end{document}
